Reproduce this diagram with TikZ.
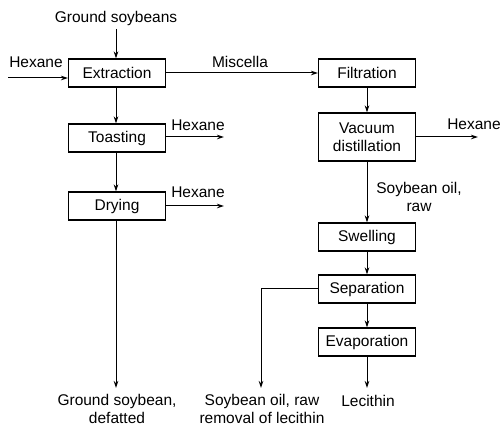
\documentclass[tikz,border=0pt]{standalone}
\usepackage{fontspec}
\setmainfont{Liberation Sans}
\usetikzlibrary{arrows.meta}
\begin{document}
\begin{tikzpicture}[x=1pt,y=-1pt,
  every node/.style={font=\fontsize{15.5}{18}\selectfont, inner sep=0pt},
  procbox/.style={draw, line width=1.1pt, minimum width=97pt, minimum height=28pt, align=center},
  lbl/.style={align=center},
  arr/.style={line width=1pt, -{Stealth[length=7pt,width=4.5pt]}},
  ln/.style={line width=1pt}]
\useasboundingbox (0,0) rectangle (504,427);
% left column
\node[procbox] (ext) at (117,73) {Extraction};
\node[procbox] (toast) at (117,138) {Toasting};
\node[procbox] (dry) at (117,206) {Drying};
\node[lbl] (gs) at (116,18) {Ground soybeans};
\node[lbl] (hx0) at (36,62) {Hexane};
\node[lbl] (hx1) at (198,125) {Hexane};
\node[lbl] (hx2) at (198,192) {Hexane};
\node[lbl] (gsd) at (117,409) {Ground soybean,\\defatted};
\coordinate (hin) at (8,78);
\coordinate (tout) at (224,137);
\coordinate (dout) at (224,206);
\coordinate (gsdend) at (116,388);
\draw[arr] (gs.south |- 0,29) -- (gs.south |- ext.north);
\draw[arr] (hin) -- (hin -| ext.west);
\draw[arr] (ext.south -| 116,0) -- (toast.north -| 116,0);
\draw[arr] (toast.south -| 116,0) -- (dry.north -| 116,0);
\draw[arr] (toast.east |- tout) -- (tout);
\draw[arr] (dry.east) -- (dout);
\draw[arr] (dry.south -| gsdend) -- (gsdend);
% right column
\node[procbox] (filt) at (367,73) {Filtration};
\node[procbox, minimum height=48pt] (vac) at (367,137) {Vacuum\\distillation};
\node[procbox] (swell) at (367,237) {Swelling};
\node[procbox] (sep) at (367,289) {Separation};
\node[procbox] (evap) at (367,342) {Evaporation};
\node[lbl] (misc) at (240,62) {Miscella};
\node[lbl] (hx3) at (474,124) {Hexane};
\node[lbl] (sor) at (419,197) {Soybean oil,\\raw};
\node[lbl] (sorl) at (262,409) {Soybean oil, raw\\removal of lecithin};
\node[lbl] (lec) at (368,401) {Lecithin};
\coordinate (vout) at (478,137);
\coordinate (sepend) at (261,388);
\coordinate (lecend) at (367,388);
\draw[arr] (ext.east) -- (filt.west);
\draw[arr] (filt.south) -- (vac.north);
\draw[arr] (vac.east |- vout) -- (vout);
\draw[arr] (vac.south) -- (swell.north);
\draw[arr] (swell.south) -- (sep.north);
\draw[arr] (sep.south) -- (evap.north);
\draw[arr] (evap.south) -- (lecend);
\draw[arr] (sep.west) -| (sepend);
\end{tikzpicture}
\end{document}
